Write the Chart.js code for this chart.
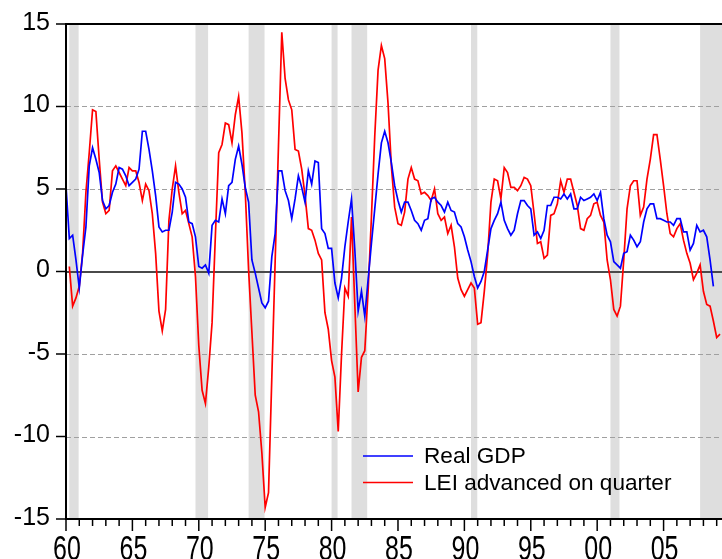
<!DOCTYPE html>
<html>
<head>
<meta charset="utf-8">
<script src="https://cdn.jsdelivr.net/npm/chart.js@4.4.0/dist/chart.umd.min.js"></script>
<style>
html, body { margin: 0; padding: 0; background: #fff; overflow: hidden; }
#wrap { position: relative; width: 724px; height: 575px; }
</style>
</head>
<body>
<div id="wrap"><canvas id="chart"></canvas></div>
<script>
/* ===== DATA ===== */
// real GDP, y/y %, quarterly from 1960Q1
const gdp = [
    5.2, 2.0, 2.2, 0.7,   -1.0, 1.0, 2.7, 6.4,   7.5, 6.8, 6.0, 4.3,   3.8, 4.0, 4.8, 5.3,
    6.3, 6.2, 5.8, 5.2,   5.4, 5.6, 6.2, 8.5,   8.5, 7.4, 6.1, 4.6,   2.7, 2.4, 2.5, 2.5,
    3.6, 5.4, 5.3, 5.0,   4.5, 3.0, 2.9, 2.1,   0.3, 0.2, 0.4, -0.1,  2.8, 3.1, 3.0, 4.4,
    3.5, 5.2, 5.4, 6.8,   7.6, 6.5, 5.1, 4.2,   0.7, -0.1, -1.0, -1.9, -2.2, -1.8, 0.9, 2.3,
    6.1, 6.1, 4.9, 4.3,   3.2, 4.4, 5.8, 5.1,   4.2, 6.1, 5.3, 6.7,   6.6, 2.6, 2.3, 1.4,
    1.4, -0.7, -1.6, -0.4, 1.5, 3.0, 4.4, 1.3,  -2.4, -1.2, -2.7, -0.5, 1.7, 3.8, 5.9, 7.8,
    8.5, 7.8, 6.6, 5.2,   4.3, 3.6, 4.2, 4.2,   3.7, 3.1, 2.9, 2.5,   3.1, 3.2, 4.4, 4.5,
    4.2, 4.0, 3.6, 4.2,   3.7, 3.6, 2.9, 2.7,   2.1, 1.3, 0.6, -0.3,  -1.0, -0.6, 0.0, 1.3,
    2.6, 3.1, 3.5, 4.2,   3.1, 2.6, 2.2, 2.5,   3.5, 4.3, 4.3, 4.0,   3.8, 2.2, 2.4, 2.0,
    2.5, 4.0, 4.0, 4.5,   4.5, 4.4, 4.7, 4.4,   4.7, 3.8, 3.8, 4.5,   4.3, 4.4, 4.5, 4.7,
    4.3, 4.8, 3.2, 2.2,   1.8, 0.6, 0.4, 0.2,   1.1, 1.2, 2.2, 1.9,   1.5, 1.8, 3.0, 3.8,
    4.1, 4.1, 3.2, 3.2,   3.1, 3.0, 3.0, 2.8,   3.2, 3.2, 2.4, 2.4,   1.3, 1.7, 2.8, 2.4,
    2.5, 2.1, 0.7, -0.9
];
// LEI y/y %, advanced one quarter, quarterly from 1960Q2
const lei = [
    0.3, -2.1, -1.6,      -0.9, 1.1, 4.8, 7.2,   9.8, 9.7, 6.8, 4.2,   3.5, 3.7, 6.1, 6.4,
    6.0, 5.6, 5.2, 6.3,   6.1, 6.1, 5.4, 4.3,   5.3, 4.9, 3.5, 1.1,   -2.4, -3.6, -2.3, 3.1,
    5.0, 6.4, 4.8, 3.5,   3.7, 2.9, 2.1, -0.3,  -4.5, -7.2, -8.0, -5.8, -3.1, 2.2, 7.2, 7.7,
    9.0, 8.9, 7.8, 9.5,   10.6, 8.4, 4.8, 0.1,  -3.7, -7.5, -8.5, -11.0, -14.3, -13.4, -6.4, 0.6,
    7.6, 14.5, 11.7, 10.4, 9.8, 7.4, 7.3, 6.2,  4.6, 2.6, 2.5, 1.9,   1.1, 0.7, -2.5, -3.5,
    -5.4, -6.4, -9.7, -5.0, -1.0, -1.5, 3.3, -2.0, -7.3, -5.2, -4.8, -1.2, 3.3, 8.2, 12.2, 13.7,
    12.9, 10.2, 6.4, 3.9, 2.9, 2.8, 3.6, 5.6,   6.3, 5.6, 5.5, 4.7,   4.8, 4.6, 4.3, 5.0,
    3.5, 3.1, 3.3, 2.3,   2.8, 1.5, -0.4, -1.1, -1.5, -1.1, -0.7, -1.0, -3.2, -3.1, -1.2, 1.0,
    4.2, 5.6, 5.5, 4.4,   6.3, 6.0, 5.1, 5.1,   4.9, 5.2, 5.7, 5.6,   5.2, 3.5, 1.7, 1.8,
    0.8, 1.0, 3.4, 3.5,   4.1, 5.5, 4.8, 5.6,   5.6, 4.8, 4.0, 2.6,   2.5, 3.2, 3.4, 4.1,
    4.2, 3.4, 3.0, 0.7,   -0.5, -2.3, -2.7, -2.1, 0.7, 3.8, 5.2, 5.5,  5.5, 3.4, 3.9, 5.6,
    6.8, 8.3, 8.3, 6.8,   5.2, 3.5, 2.3, 2.1,   2.6, 2.9, 1.9, 1.1,   0.5, -0.5, -0.1, 0.4,
    -1.2, -2.0, -2.1, -3.0, -4.0, -3.8
];
const gdpStart = 1960.0;
const leiStart = 1960.25;
// NBER recessions (peak quarter .. trough quarter), as decimal years
const recessionStart = [1960.25, 1969.75, 1973.75, 1980.0, 1981.5, 1990.5, 2001.0, 2007.75];
const recessionEnd   = [1960.95, 1970.7, 1974.95, 1980.45, 1982.68, 1990.97, 2001.68, 2009.6];
const yGridValues = [-10, -5, 5, 10];
const seriesLabels = ['Real GDP', 'LEI advanced on quarter'];

const FONT = "'Liberation Sans', Arial, sans-serif";

const toPoints = (arr, start) => arr.map((v, i) => ({ x: start + i / 4, y: v }));
const yearLabel = v => String(v % 100).padStart(2, '0');

/* ===== DECORATION PLUGIN ===== */
const backdrop = {
    id: 'backdrop',
    beforeDatasetsDraw(chart) {
        const { ctx, chartArea: a, scales: { x, y } } = chart;
        ctx.save();
        // recession bands
        ctx.fillStyle = 'rgb(222,222,222)';
        recessionStart.forEach((s, i) => {
            const x0 = x.getPixelForValue(s), x1 = x.getPixelForValue(recessionEnd[i]);
            ctx.fillRect(x0, a.top, x1 - x0, a.bottom - a.top);
        });
        // dashed grid
        ctx.strokeStyle = 'rgb(160,160,160)';
        ctx.lineWidth = 1;
        ctx.setLineDash([5, 3]);
        yGridValues.forEach(v => {
            const py = Math.round(y.getPixelForValue(v)) + 0.5;
            ctx.beginPath(); ctx.moveTo(a.left, py); ctx.lineTo(a.right, py); ctx.stroke();
        });
        ctx.setLineDash([]);
        // zero line
        ctx.strokeStyle = '#4a4a4a';
        ctx.lineWidth = 2;
        const z = Math.round(y.getPixelForValue(0));
        ctx.beginPath(); ctx.moveTo(a.left, z); ctx.lineTo(a.right, z); ctx.stroke();
        ctx.restore();
    },
    afterDatasetsDraw(chart) {
        const { ctx, chartArea: a, scales: { x, y } } = chart;
        ctx.save();
        // frame: top, left, bottom
        ctx.strokeStyle = '#000';
        ctx.lineWidth = 2;
        ctx.beginPath();
        ctx.moveTo(a.right + 2, a.top); ctx.lineTo(a.left, a.top);
        ctx.lineTo(a.left, a.bottom); ctx.lineTo(a.right + 2, a.bottom);
        ctx.stroke();
        // x ticks: minor each year, major each 5 years
        ctx.lineWidth = 1.5;
        for (let yr = 1960; yr <= 2009; yr++) {
            const px = x.getPixelForValue(yr);
            const len = yr % 5 === 0 ? 12 : 7;
            ctx.beginPath(); ctx.moveTo(px, a.bottom); ctx.lineTo(px, a.bottom + len); ctx.stroke();
        }
        // x labels: tall, condensed look (stretched vertically)
        ctx.fillStyle = '#000';
        ctx.font = '25px ' + FONT;
        ctx.textAlign = 'center';
        ctx.textBaseline = 'alphabetic';
        x.ticks.forEach(t => {
            const px = x.getPixelForValue(t.value);
            ctx.save();
            ctx.translate(px + 1, a.bottom + 41);
            ctx.scale(1, 1.4);
            ctx.fillText(yearLabel(t.value), 0, 0);
            ctx.restore();
        });
        // y ticks
        [-15, -10, -5, 0, 5, 10, 15].forEach(v => {
            const py = y.getPixelForValue(v);
            ctx.beginPath(); ctx.moveTo(a.left - 10, py); ctx.lineTo(a.left, py); ctx.stroke();
        });
        // legend inside plot
        ctx.font = '22.6px ' + FONT;
        ctx.textAlign = 'left';
        ctx.textBaseline = 'middle';
        chart.data.datasets.forEach((ds, i) => {
            const ly = 456 + i * 26.5;
            ctx.strokeStyle = ds.borderColor;
            ctx.lineWidth = 1.5;
            ctx.beginPath(); ctx.moveTo(363, ly); ctx.lineTo(413, ly); ctx.stroke();
            ctx.fillStyle = '#000';
            ctx.fillText(ds.label, 424, ly + 1);
        });
        ctx.restore();
    }
};

/* ===== CHART ===== */
new Chart(document.getElementById('chart'), {
    type: 'line',
    data: {
        datasets: [
            { label: seriesLabels[0], data: toPoints(gdp, gdpStart), borderColor: '#0000ff', borderWidth: 1.7, pointRadius: 0, tension: 0, fill: false },
            { label: seriesLabels[1], data: toPoints(lei, leiStart), borderColor: '#ff0000', borderWidth: 1.7, pointRadius: 0, tension: 0, fill: false }
        ]
    },
    options: {
        responsive: true, maintainAspectRatio: false, animation: false,
        layout: { padding: { top: 24, left: 0, right: 0, bottom: 0 } },
        plugins: { legend: { display: false }, tooltip: { enabled: false } },
        scales: {
            x: {
                type: 'linear', min: 1960, max: 2009.55,
                grid: { display: false, drawTicks: false }, border: { display: false },
                ticks: { display: false, stepSize: 5, includeBounds: false, autoSkip: false, maxRotation: 0 },
                afterFit: s => { s.height = 56; }
            },
            y: {
                min: -15, max: 15,
                grid: { display: false, drawTicks: true, tickLength: 16 }, border: { display: false },
                ticks: {
                    stepSize: 5, padding: 0, labelOffset: -1,
                    color: '#000', font: { family: FONT, size: 25 },
                    callback: v => String(v)
                },
                afterFit: s => { s.width = 66; }
            }
        }
    },
    plugins: [backdrop]
});
</script>
</body>
</html>
